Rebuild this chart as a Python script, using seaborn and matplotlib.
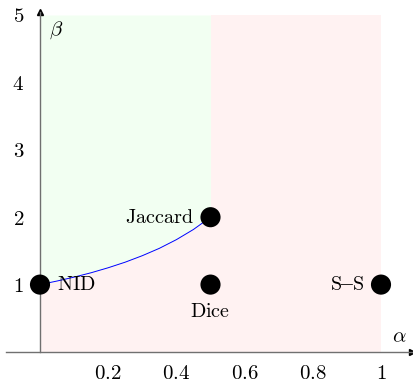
import numpy as np
import pandas as pd
import matplotlib
matplotlib.use('Agg')
import matplotlib.pyplot as plt
import seaborn as sns

# --- data ---
names = ['NID', 'Jaccard', 'Dice', 'S\u2013S']
alpha = [0.0, 0.5, 0.5, 1.0]
beta = [1.0, 2.0, 1.0, 1.0]

# boundary curve between the two regions
curve_alpha = [0.0, 0.05, 0.1, 0.15, 0.2, 0.25, 0.3, 0.35, 0.4, 0.45, 0.5]
curve_beta = [1.0, 1.053, 1.111, 1.176, 1.25, 1.333, 1.429, 1.538, 1.667, 1.818, 2.0]

xticks = [0.2, 0.4, 0.6, 0.8, 1.0]
xtick_labels = ['0.2', '0.4', '0.6', '0.8', '1']
yticks = [1, 2, 3, 4, 5]

pts = pd.DataFrame({'name': names, 'alpha': alpha, 'beta': beta})
curve = pd.DataFrame({'alpha': curve_alpha, 'beta': curve_beta})

sns.set_theme(style='white')
plt.rcParams['font.family'] = ['DejaVu Serif']
plt.rcParams['mathtext.fontset'] = 'cm'
plt.rcParams['text.color'] = 'black'
plt.rcParams['xtick.labelcolor'] = 'black'
plt.rcParams['ytick.labelcolor'] = 'black'

W, H = 414, 382
fig = plt.figure(figsize=(W / 100, H / 100), dpi=100)
x0, x1 = -0.1, 1.09
y0, y1 = 0.0, 5.05
px_x, px_y = 341, 67.4
ax = fig.add_axes([(40 - 0.1 * px_x) / W, 30 / H,
                   (x1 - x0) * px_x / W, (y1 - y0) * px_y / H])
ax.set_xlim(x0, x1)
ax.set_ylim(y0, y1)

# shaded regions
green = '#f2fff2'
red = '#fff2f2'
ax.fill_between(curve['alpha'], curve['beta'], 5, color=green, lw=0, zorder=0)
ax.fill_between(curve['alpha'], 0, curve['beta'], color=red, lw=0, zorder=0)
ax.fill_between([0.5, 1.0], 0, 5, color=red, lw=0, zorder=0)

sns.lineplot(data=curve, x='alpha', y='beta', sort=False, color='blue',
             lw=0.7, ax=ax, zorder=3)
sns.scatterplot(data=pts, x='alpha', y='beta', color='black', s=210,
                edgecolor='none', ax=ax, zorder=4, clip_on=False)

# axis lines in the middle
for side in ['top', 'right']:
    ax.spines[side].set_visible(False)
ax.spines['left'].set_position(('data', 0))
ax.spines['bottom'].set_position(('data', 0))
for side in ['left', 'bottom']:
    ax.spines[side].set_color('#707070')
    ax.spines[side].set_linewidth(1.0)
ax.spines['left'].set_bounds(0, 5.05)
ax.plot(1, 0, marker='>', color='black', ms=4, transform=ax.get_yaxis_transform(),
        clip_on=False)
ax.plot(0, 1, marker='^', color='black', ms=4, transform=ax.get_xaxis_transform(),
        clip_on=False)

ax.set_xticks(xticks)
ax.set_xticklabels(['$%s$' % t for t in xtick_labels])
ax.set_yticks(yticks)
ax.set_yticklabels(['$%d$' % t for t in yticks])
ax.tick_params(axis='both', direction='inout', length=5, width=0.6,
               color='#a0a0a0', labelsize=15, labelcolor='black')
ax.tick_params(axis='x', pad=6)
ax.tick_params(axis='y', pad=9)
ax.set_xlabel('')
ax.set_ylabel('')

ax.text(1.075, 0.08, r'$\alpha$', fontsize=15, ha='right', va='bottom')
ax.text(0.025, 4.78, r'$\beta$', fontsize=15, ha='left', va='center')

fs = 14.5
ax.text(0.05, 1.0, r'$\mathrm{NID}$', fontsize=fs, ha='left', va='center', zorder=5)
ax.text(0.45, 2.0, r'$\mathrm{Jaccard}$', fontsize=fs, ha='right', va='center', zorder=5)
ax.text(0.5, 0.6, r'$\mathrm{Dice}$', fontsize=fs, ha='center', va='center', zorder=5)
ax.text(0.95, 1.0, r'$\mathrm{S\!\!-\!\!S}$', fontsize=fs, ha='right', va='center', zorder=5)

fig.savefig('out.png', dpi=100)
